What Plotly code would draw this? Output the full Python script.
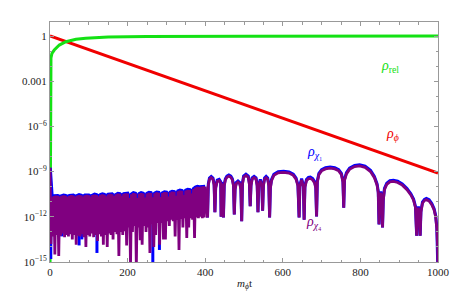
import numpy as np
import plotly.graph_objects as go

# ---------------- data (log10 of the energy densities) ----------------
# rho_phi (red): straight decay on the log scale
phi_t = [0, 1000]
phi_log = [0.0, -9.1]

# rho_rel (green)
rel_t = [0, 0.5, 1.2, 2.5, 5, 11, 24, 41, 67, 92, 150, 250, 500, 1000]
rel_log = [-15.5, -5.0, -2.6, -1.45, -1.15, -0.93, -0.6, -0.38, -0.22, -0.15, -0.07, -0.03, -0.01, 0.0]

# rho_chi4 (purple), rapidly oscillating part: upper turning points (t = 0,5,...,400)
dense_top_t = np.arange(0, 401, 5)
chi4_dense_top = [
    -8.75,
    -10.7, -10.62, -10.58, -10.6, -10.66, -10.6, -10.57, -10.6, -10.67, -10.6,
    -10.56, -10.58, -10.66, -10.58, -10.55, -10.58, -10.66, -10.57, -10.54, -10.57,
    -10.65, -10.55, -10.52, -10.55, -10.64, -10.54, -10.5, -10.53, -10.63, -10.52,
    -10.48, -10.5, -10.62, -10.5, -10.46, -10.48, -10.6, -10.48, -10.44,
    -10.45, -10.75, -10.5, -10.42, -10.45, -10.75, -10.48, -10.42, -10.45, -10.72,
    -10.46, -10.4, -10.42, -10.7, -10.44, -10.38, -10.4, -10.68, -10.42, -10.36,
    -10.38, -10.65, -10.38, -10.32, -10.34, -10.6, -10.3, -10.25, -10.28, -10.55,
    -10.25, -10.2, -10.22, -10.45, -10.15, -10.05, -10.0, -10.02, -10.0, -9.98,
    -10.0]
# lower turning points (t = 2.5, 7.5, ..., 397.5)
dense_bot_t = np.arange(2.5, 400, 5)
chi4_dense_bot = [
    -13.8, -13.3, -14.5, -13.2, -14.6, -13.25, -13.1, -13.35, -13.2, -13.3,
    -13.15, -13.5, -13.2, -13.85, -13.25, -13.3, -13.15, -13.35, -14.0, -13.2,
    -13.3, -13.1, -13.35, -13.2, -13.6, -13.15, -13.3, -13.85, -13.2, -14.0,
    -13.1, -13.2, -13.5, -13.0, -13.15, -14.6, -13.0, -13.2, -12.95, -13.9,
    -12.7, -15.3, -13.0, -12.6, -15.3, -12.7, -13.55, -13.85, -12.6, -13.0,
    -12.7, -14.4, -12.5, -14.0, -13.2, -12.4, -13.85, -12.4, -13.5, -13.5,
    -12.3, -12.6, -12.2, -12.3, -13.3, -12.2, -14.2, -12.15, -12.7, -12.1,
    -13.4, -12.7, -12.1, -12.2, -13.4, -12.05, -12.1, -12.0, -12.1, -12.05]

# arches for t > 400
arch_t = [
    406, 408, 411, 415.5, 420, 423, 425,
    427, 431, 436, 440, 441, 442, 445, 447,
    449, 452, 456, 461, 466, 470, 473, 475,
    477, 480, 484.5, 489, 492, 494,
    496, 499, 505, 511, 514, 516,
    518, 521, 526, 531, 534, 536,
    538, 542, 546, 548,
    550, 553, 557, 561, 564, 566,
    568, 571, 577, 588, 602, 616, 627, 634, 639, 642,
    644, 648.5, 653, 655,
    657, 661, 666, 671, 677, 682, 685, 687,
    689, 693, 700, 710, 722, 734, 744, 751, 755, 757,
    759, 764, 772, 785, 798, 812, 826, 836, 843, 846, 848,
    850, 852.5, 855, 857,
    859, 862, 868, 876, 885, 896, 908, 920, 930, 937, 942, 945,
    947, 949.5, 952, 954,
    956, 960, 965, 970, 977, 984, 990, 994, 997, 999, 1000]
chi4_arch = [
    -12.05, -9.9, -9.5, -9.4, -9.5, -9.9, -11.7,
    -10.1, -9.65, -9.6, -9.75, -12.0, -9.8, -10.1, -12.05,
    -9.95, -9.55, -9.38, -9.3, -9.38, -9.55, -9.95, -11.85,
    -10.2, -9.8, -9.7, -9.8, -10.2, -12.3,
    -9.85, -9.38, -9.25, -9.38, -9.85, -11.3,
    -9.95, -9.5, -9.4, -9.5, -9.95, -11.7,
    -10.0, -9.6, -10.0, -11.6,
    -9.95, -9.5, -9.4, -9.5, -9.95, -12.05,
    -10.1, -9.6, -9.25, -9.08, -9.05, -9.1, -9.25, -9.5, -9.95, -12.05,
    -10.0, -9.55, -10.0, -12.2,
    -10.05, -9.6, -9.47, -9.45, -9.55, -9.75, -10.1, -11.97,
    -9.7, -9.2, -8.95, -8.82, -8.77, -8.82, -8.95, -9.2, -9.7, -11.4,
    -9.6, -9.15, -8.85, -8.67, -8.62, -8.72, -9.0, -9.4, -9.9, -10.4, -12.5,
    -10.8, -10.4, -10.8, -12.7,
    -10.9, -10.2, -9.85, -9.68, -9.65, -9.72, -9.9, -10.2, -10.55, -10.9, -11.4, -13.25,
    -11.8, -11.4, -11.8, -13.25,
    -11.7, -11.1, -10.92, -10.86, -10.95, -11.2, -11.55, -12.0, -12.8, -14.0, -16.0]
# rho_chi1 (blue) on the same arches, slightly above
chi1_arch = [
    -12.05, -9.82, -9.42, -9.32, -9.42, -9.82, -11.7,
    -10.02, -9.57, -9.52, -9.67, -12.0, -9.72, -10.02, -12.05,
    -9.87, -9.47, -9.3, -9.22, -9.3, -9.47, -9.87, -11.85,
    -10.12, -9.72, -9.62, -9.72, -10.12, -12.3,
    -9.77, -9.3, -9.17, -9.3, -9.77, -11.3,
    -9.87, -9.42, -9.32, -9.42, -9.87, -11.7,
    -9.92, -9.52, -9.92, -11.6,
    -9.87, -9.42, -9.32, -9.42, -9.87, -12.05,
    -10.02, -9.52, -9.17, -9.0, -8.97, -9.02, -9.17, -9.42, -9.87, -12.05,
    -9.92, -9.47, -9.92, -12.2,
    -9.97, -9.52, -9.39, -9.37, -9.47, -9.67, -10.02, -11.97,
    -9.62, -9.12, -8.87, -8.74, -8.69, -8.74, -8.87, -9.12, -9.62, -11.4,
    -9.52, -9.07, -8.77, -8.59, -8.54, -8.64, -8.92, -9.32, -9.82, -10.32, -12.5,
    -10.72, -10.32, -10.72, -12.7,
    -10.82, -10.12, -9.77, -9.6, -9.57, -9.64, -9.82, -10.12, -10.47, -10.82, -11.32, -13.25,
    -11.72, -11.32, -11.72, -13.25,
    -11.62, -11.02, -10.84, -10.78, -10.87, -11.12, -11.47, -11.92, -12.72, -13.92, -16.0]
# deeper blue spikes in the dense part
blue_spike_t = [2, 30, 75, 82, 121, 265, 282]
blue_spike_from = [-12.5, -12.8, -13.0, -13.0, -13.0, -12.5, -12.5]
blue_spike_to = [-14.8, -13.3, -13.9, -13.5, -14.4, -15.3, -14.2]

# axis ticks
x_ticks = [0, 200, 400, 600, 800, 1000]
x_ticktext = ["0", "200", "400", "600", "800", "1000"]
x_minor = [50, 100, 150, 250, 300, 350, 450, 500, 550, 650, 700, 750, 850, 900, 950]
y_ticks = [1, 1e-3, 1e-6, 1e-9, 1e-12, 1e-15]
y_ticktext = ["1", "0.001", "10<sup>−6</sup>", "10<sup>−9</sup>", "10<sup>−12</sup>", "10<sup>−15</sup>"]
y_minor = [1e-1, 1e-2, 1e-4, 1e-5, 1e-7, 1e-8, 1e-10, 1e-11, 1e-13, 1e-14]

# ---------------- build traces ----------------
n = min(len(chi4_arch), len(chi1_arch), len(arch_t))
arch_t, chi4_arch, chi1_arch = arch_t[:n], chi4_arch[:n], chi1_arch[:n]

zz_t, zz_v = [], []
for i in range(len(dense_top_t)):
    zz_t.append(float(dense_top_t[i]))
    zz_v.append(chi4_dense_top[i])
    if i < len(dense_bot_t):
        zz_t.append(float(dense_bot_t[i]))
        zz_v.append(chi4_dense_bot[i])

p = lambda a: [10.0 ** v for v in a]

SERIF = "Liberation Serif, Times New Roman, DejaVu Serif, serif"
fig = go.Figure()
GREEN = "rgb(20,225,20)"
RED = "rgb(240,0,0)"
BLUE = "rgb(0,0,255)"
PURPLE = "rgb(128,0,128)"

fig.add_trace(go.Scatter(x=phi_t, y=p(phi_log), mode="lines", line=dict(color=RED, width=3)))
fig.add_trace(go.Scatter(x=rel_t, y=p(rel_log), mode="lines", line=dict(color=GREEN, width=3)))

# blue
fig.add_trace(go.Scatter(x=list(dense_top_t), y=p(chi4_dense_top), mode="lines",
                         line=dict(color=BLUE, width=3.6)))
sx, sy = [], []
for t, a, b in zip(blue_spike_t, blue_spike_from, blue_spike_to):
    sx += [t, t, None]
    sy += [10 ** a, 10 ** b, None]
fig.add_trace(go.Scatter(x=sx, y=sy, mode="lines", line=dict(color=BLUE, width=3)))
fig.add_trace(go.Scatter(x=arch_t, y=p(chi1_arch), mode="lines", line=dict(color=BLUE, width=3)))

# purple
fig.add_trace(go.Scatter(x=zz_t + arch_t, y=p(zz_v + chi4_arch), mode="lines",
                         line=dict(color=PURPLE, width=2.8)))

FRAME = "#999999"
TICKFONT = dict(family=SERIF, size=11, color="#222222")
# the page body adds an 8px offset; size the figure so the plot area lands
# at x 50..438, y 22..262 of the window
fig.update_layout(
    width=447, height=287,
    margin=dict(l=42, r=17, t=14, b=33),
    plot_bgcolor="white", paper_bgcolor="white",
    showlegend=False,
    font=dict(family=SERIF, size=11, color="#222222"),
    xaxis=dict(range=[0, 1000], tickvals=x_ticks, ticktext=x_ticktext, tickfont=TICKFONT,
               ticks="inside", ticklen=4, automargin=False,
               tickcolor=FRAME, showline=True, linecolor=FRAME, linewidth=1,
               mirror="ticks", showgrid=False, zeroline=False,
               minor=dict(tickvals=x_minor, ticks="inside", ticklen=2.5, tickcolor=FRAME)),
    yaxis=dict(type="log", range=[-15, 0.93], tickvals=y_ticks, ticktext=y_ticktext,
               tickfont=TICKFONT, automargin=False,
               ticks="inside", ticklen=4, tickcolor=FRAME, showline=True,
               linecolor=FRAME, linewidth=1, mirror="ticks", showgrid=False,
               zeroline=False,
               minor=dict(tickvals=y_minor, ticks="inside", ticklen=2, tickcolor=FRAME)),
)

def ann(text, x, y, color, size=14):
    fig.add_annotation(text=text, x=x, y=y, xref="paper", yref="paper",
                       showarrow=False, font=dict(color=color, size=size, family=SERIF))

ann("<i>ρ</i><sub>rel</sub>", 0.905, 0.86, GREEN)
ann("<i>ρ</i><sub><i>ϕ</i></sub>", 0.905, 0.53, RED)
ann("<i>ρ</i><sub><i>χ</i>₁</sub>", 0.705, 0.455, BLUE)
ann("<i>ρ</i><sub><i>χ</i>₄</sub>", 0.705, 0.12, PURPLE)
ann("<i>m</i><sub><i>ϕ</i></sub>t", 0.5, -0.13, "#222222", size=11)

fig.write_html("out.html")
